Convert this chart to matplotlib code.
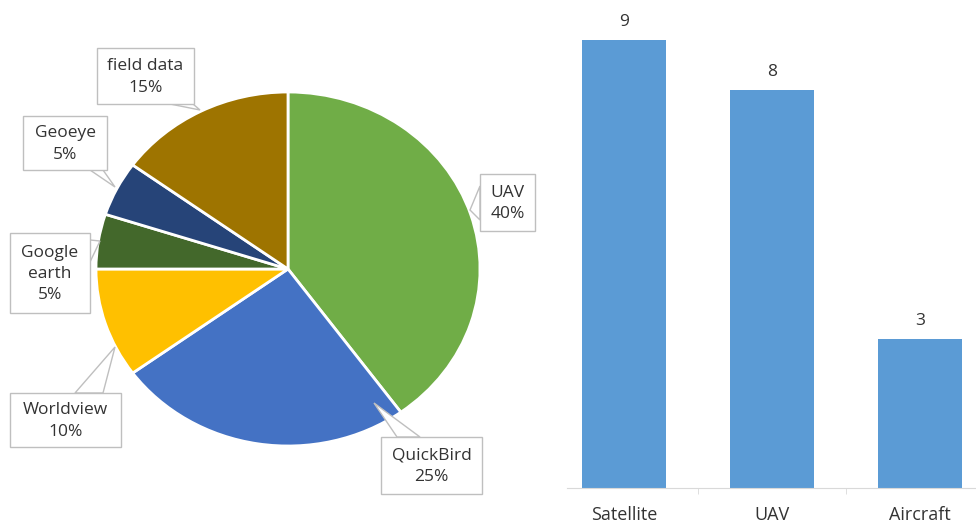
import matplotlib
matplotlib.use("Agg")
import matplotlib.pyplot as plt
from matplotlib.patches import Polygon, Rectangle

plt.rcParams['font.family'] = ['Open Sans', 'DejaVu Sans']

# Data
pie_labels = ["UAV", "QuickBird", "Worldview", "Google\nearth", "Geoeye", "field data"]
pie_values = [40, 25, 10, 5, 5, 15]
pie_colors = ["#70AD47", "#4472C4", "#FFC000", "#43682B", "#264478", "#9E7400"]

bar_categories = ["Satellite", "UAV", "Aircraft"]
bar_values = [9, 8, 3]
bar_color = "#5B9BD5"

W, H = 976, 527
fig = plt.figure(figsize=(W / 100, H / 100), dpi=100)

def fx(x):
    return x / W

def fy(y):
    return 1 - y / H

# ---- Pie ----
pl, pr, pt, pb = 96, 480, 92, 446
ax_pie = fig.add_axes([fx(pl), fy(pb), (pr - pl) / W, (pb - pt) / H])
ax_pie.pie(pie_values, colors=pie_colors, startangle=90, counterclock=False,
           radius=1, wedgeprops=dict(edgecolor="white", linewidth=2))
ax_pie.set_aspect("auto")
ax_pie.set_xlim(-1, 1)
ax_pie.set_ylim(-1, 1)
ax_pie.axis("off")

# Callouts: (box x0, y0, x1, y1), wedge base points, tip (pixel coords from top-left)
callouts = [
    ((480, 174, 535, 231), [(480, 186), (480, 220)], (470, 210)),
    ((381, 437, 482, 494), [(397, 437), (420, 437)], (374, 403)),
    ((10, 393, 121, 447), [(75, 393), (103, 393)], (115, 347)),
    ((10, 233, 90, 313), [(90, 240), (90, 262)], (100, 241)),
    ((23, 116, 107, 170), [(90, 170), (103, 170)], (115, 187)),
    ((97, 48, 194, 104), [(170, 104), (193, 104)], (200, 110)),
]

edge_gray = "#BFBFBF"
text_col = "#333333"
fs = 12.5
for lab, val, (box, base, tip) in zip(pie_labels, pie_values, callouts):
    x0, y0, x1, y1 = box
    poly = Polygon([(fx(base[0][0]), fy(base[0][1])), (fx(tip[0]), fy(tip[1])),
                    (fx(base[1][0]), fy(base[1][1]))], closed=True,
                   transform=fig.transFigure, facecolor="white", edgecolor=edge_gray,
                   linewidth=1, zorder=5)
    fig.add_artist(poly)
    rect = Rectangle((fx(x0), fy(y1)), (x1 - x0) / W, (y1 - y0) / H,
                     transform=fig.transFigure, facecolor="white", edgecolor=edge_gray,
                     linewidth=1, zorder=6)
    fig.add_artist(rect)
    fig.text(fx((x0 + x1) / 2), fy((y0 + y1) / 2 + 1), f"{lab}\n{val}%",
             ha="center", va="center", fontsize=fs, color=text_col,
             linespacing=1.45, zorder=7)

# ---- Bars ----
bl, br, bt, bb = 567, 976, 0, 488
ax_bar = fig.add_axes([fx(bl), fy(bb), (br - bl) / W, (bb - bt) / H])
x = list(range(len(bar_categories)))
ax_bar.bar(x, bar_values, width=0.565, color=bar_color, zorder=2)
ax_bar.set_xlim(-0.385, 2.378)
ax_bar.set_ylim(0, 488 / 49.8)
for xi, v in zip(x, bar_values):
    ax_bar.text(xi, v + 0.2, str(v), ha="center", va="bottom", fontsize=fs, color=text_col)
ax_bar.set_xticks(x)
ax_bar.set_xticklabels(bar_categories, fontsize=fs + 0.5, color=text_col)
ax_bar.set_xticks([0.5, 1.5], minor=True)
ax_bar.tick_params(axis="x", which="major", length=0, pad=13)
ax_bar.tick_params(axis="x", which="minor", length=4, color="#D9D9D9", direction="out")
ax_bar.set_yticks([])
for s in ["top", "right", "left"]:
    ax_bar.spines[s].set_visible(False)
ax_bar.spines["bottom"].set_color("#D9D9D9")

fig.savefig("out.png", dpi=100)
